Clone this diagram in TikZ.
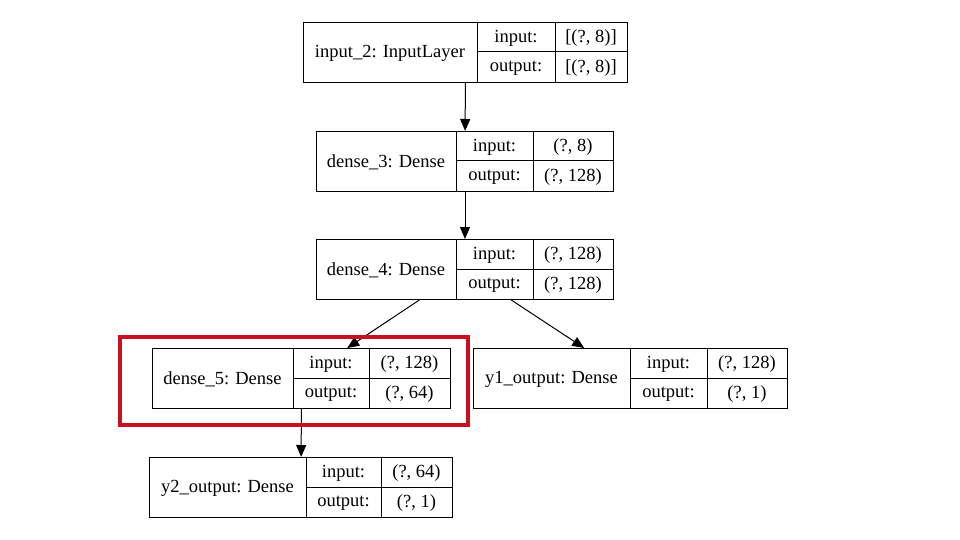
\documentclass[tikz,border=0pt]{standalone}
\usepackage{fontspec}
\setmainfont{Liberation Serif}
\usetikzlibrary{arrows.meta}
\definecolor{hlred}{RGB}{200,16,32}
\tikzset{
  layerbox/.style={draw=black,line width=1pt,minimum height=60pt,inner sep=0pt,anchor=north west},
  cell/.style={draw=black,line width=1pt},
  celltext/.style={font=\fontsize{18.5}{20}\selectfont,inner sep=0pt,yshift=-1.5pt},
  edge/.style={draw=black,line width=1pt,-{Triangle[length=12pt,width=10pt]}},
  highlight/.style={draw=hlred,line width=3.5pt}
}
% name, left, top, w1, w2, w3, label, input, output
\newcommand{\layer}[9]{%
  \node[layerbox,minimum width={#4+#5+#6}] (#1) at (#2,#3) {};
  \draw[cell] ({#2+#4},#3) -- ++(0,60);
  \draw[cell] ({#2+#4+#5},#3) -- ++(0,60);
  \draw[cell] ({#2+#4},{#3+30}) -- ++({#5+#6},0);
  \node[celltext] (#1-name) at ({#2+#4/2},{#3+30}) {#7};
  \node[celltext] (#1-inkey) at ({#2+#4+#5/2},{#3+15}) {input:};
  \node[celltext] (#1-outkey) at ({#2+#4+#5/2},{#3+45}) {output:};
  \node[celltext] (#1-inval) at ({#2+#4+#5+#6/2},{#3+15}) {#8};
  \node[celltext] (#1-outval) at ({#2+#4+#5+#6/2},{#3+45}) {#9};
}
\begin{document}
\begin{tikzpicture}[x=1pt,y=-1pt]
  \useasboundingbox (0,0) rectangle (960,540);
  % Layers
  \layer{input2}{303}{22}{174}{78}{72}{input\_2: InputLayer}{[(?, 8)]}{[(?, 8)]}
  \layer{dense3}{316}{131}{140}{77}{80}{dense\_3: Dense}{(?, 8)}{(?, 128)}
  \layer{dense4}{316}{239}{140}{77}{80}{dense\_4: Dense}{(?, 128)}{(?, 128)}
  \layer{dense5}{152}{348}{141}{76}{81}{dense\_5: Dense}{(?, 128)}{(?, 64)}
  \layer{y1out}{473}{348}{157}{77}{80}{y1\_output: Dense}{(?, 128)}{(?, 1)}
  \layer{y2out}{149}{457}{157}{75}{71}{y2\_output: Dense}{(?, 64)}{(?, 1)}
  % Edges
  \draw[edge] (input2) -- (dense3);
  \draw[edge] (dense3) -- (dense4);
  \draw[edge] (dense4) -- (dense5);
  \draw[edge] (dense4) -- (y1out);
  \draw[edge] (dense5) -- (y2out);
  % Highlight round dense_5
  \draw[highlight] (120,337) rectangle (468,425);
\end{tikzpicture}
\end{document}
